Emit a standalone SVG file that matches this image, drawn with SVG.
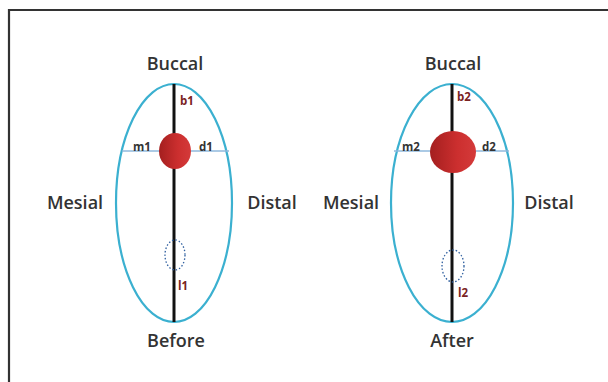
<svg xmlns="http://www.w3.org/2000/svg" width="608" height="382" viewBox="0 0 608 382">
<defs>
<style>
.lbl{font-family:"Open Sans","Liberation Sans",sans-serif;font-size:18px;font-weight:600;fill:#333;}
.sm{font-family:"Open Sans","Liberation Sans",sans-serif;font-size:11.5px;font-weight:700;fill:#333;}
.red{fill:#7a2222;}
.outline{fill:none;stroke:#3bb0d0;stroke-width:2.2;}
.axis{stroke:#111;stroke-width:3;}
.hline{stroke:#8fb8dc;stroke-width:1.5;}
.dot{fill:none;stroke:#2f5f9f;stroke-width:1.3;stroke-dasharray:1.5 2;}
</style>
<linearGradient id="rg" x1="0" y1="0" x2="1" y2="0">
<stop offset="0" stop-color="#a41f1f"/>
<stop offset="0.6" stop-color="#cc2f2f"/>
<stop offset="1" stop-color="#d43a3a"/>
</linearGradient>
</defs>
<rect x="0" y="0" width="608" height="382" fill="#fff"/>
<path d="M9,382 V10 H608" fill="none" stroke="#333" stroke-width="2.2"/>
<g id="before">
<ellipse class="outline" cx="174" cy="203" rx="58" ry="119"/>
<line class="hline" x1="122" y1="151" x2="229" y2="151"/>
<line class="axis" x1="174" y1="84" x2="174" y2="322"/>
<ellipse cx="175" cy="151" rx="16" ry="18" fill="url(#rg)"/>
<ellipse class="dot" cx="175" cy="255" rx="10" ry="15"/>
<text class="lbl" x="175" y="70" text-anchor="middle">Buccal</text>
<text class="sm red" x="180" y="105">b1</text>
<text class="sm" x="133" y="151">m1</text>
<text class="sm" x="199" y="151">d1</text>
<text class="sm red" x="178" y="290">l1</text>
<text class="lbl" x="176" y="347" text-anchor="middle">Before</text>
<text class="lbl" x="75" y="209" text-anchor="middle">Mesial</text>
<text class="lbl" x="272" y="209" text-anchor="middle">Distal</text>
</g>
<g id="after">
<ellipse class="outline" cx="452" cy="203" rx="61" ry="119"/>
<line class="hline" x1="394" y1="151" x2="509" y2="151"/>
<line class="axis" x1="452" y1="84" x2="452" y2="322"/>
<ellipse cx="453" cy="152" rx="23" ry="21" fill="url(#rg)"/>
<ellipse class="dot" cx="453" cy="266" rx="11" ry="16"/>
<text class="lbl" x="453" y="70" text-anchor="middle">Buccal</text>
<text class="sm red" x="457" y="101">b2</text>
<text class="sm" x="402" y="151">m2</text>
<text class="sm" x="482" y="151">d2</text>
<text class="sm red" x="458" y="297">l2</text>
<text class="lbl" x="452" y="347" text-anchor="middle">After</text>
<text class="lbl" x="351" y="209" text-anchor="middle">Mesial</text>
<text class="lbl" x="549" y="209" text-anchor="middle">Distal</text>
</g>
</svg>
